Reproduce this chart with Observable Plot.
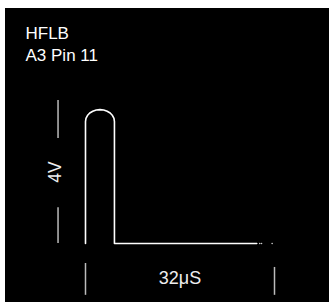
<!DOCTYPE html>
<html><head><meta charset="utf-8">
<script src="https://cdn.jsdelivr.net/npm/d3@7"></script>
<script src="https://cdn.jsdelivr.net/npm/@observablehq/plot@0.6"></script>
<style>
html,body{margin:0;padding:0;background:#fff;}
#wrap{padding:8px 0 0 5px;width:324px;height:294px;}
#wrap svg{display:block;background:#000;}
</style></head><body><div id="wrap"></div>
<script>
// Title lines
const titleLines = ["HFLB", "A3 Pin 11"];
// Waveform trace (time in µs, volts)
const pulseT = [0, 0, 0.08, 0.33, 0.72, 1.23, 1.82, 2.45, 3.08, 3.67, 4.18, 4.57, 4.82, 4.9, 4.9, 29.0];
const pulseV = [0, 3.41, 3.50, 3.58, 3.65, 3.70, 3.735, 3.746, 3.735, 3.70, 3.65, 3.58, 3.50, 3.41, 0, 0];
const traceDotT = [29.5, 29.8, 31.6];
const traceDotV = [0, 0, 0];
// Voltage scale bar
const voltBarT = -4.65;
const voltBarFrom = [0, 2.94];
const voltBarTo = [1.0, 4.0];
const voltLabel = "4V";
const voltLabelT = -5.05;
const voltLabelV = 2.0;
// Time scale bar
const timeTickT = [0, 32];
const timeTickTop = [-0.56, -0.67];
const timeTickBottom = [-1.45, -1.45];
const timeLabel = "32\u03bcS";
const timeLabelT = 16;
const timeLabelV = -0.965;

const pulse = pulseT.map((t, i) => ({t, v: pulseV[i]}));
const dots = traceDotT.map((t, i) => ({t, v: traceDotV[i]}));
const voltSegs = voltBarFrom.map((a, i) => ({t: voltBarT, v1: a, v2: voltBarTo[i]}));
const timeTicks = timeTickT.map((t, i) => ({t, v1: timeTickTop[i], v2: timeTickBottom[i]}));

const chart = Plot.plot({
  width: 324,
  height: 294,
  marginLeft: 80,
  marginRight: 55,
  marginTop: 92,
  marginBottom: 59,
  x: {domain: [0, 32], axis: null},
  y: {domain: [0, 4], axis: null},
  style: {background: "#000", color: "#fff", fontFamily: "'Liberation Sans', Arial, sans-serif", overflow: "visible"},
  marks: [
    Plot.text([titleLines.join("\n")], {
      frameAnchor: "top-left", dx: -60, dy: -76, lineAnchor: "top", textAnchor: "start",
      fontSize: 17, lineHeight: 1.24, fill: "#fff"
    }),
    Plot.ruleX(voltSegs, {x: "t", y1: "v1", y2: "v2", stroke: "#bbb", strokeWidth: 1.5}),
    Plot.text([voltLabel], {x: voltLabelT, y: voltLabelV, rotate: -90, fontSize: 17.5, fill: "#eee"}),
    Plot.ruleX(timeTicks, {x: "t", y1: "v1", y2: "v2", stroke: "#bbb", strokeWidth: 1.5}),
    Plot.text([timeLabel], {x: timeLabelT, y: timeLabelV, fontSize: 18, fill: "#eee"}),
    Plot.line(pulse, {x: "t", y: "v", stroke: "#fff", strokeWidth: 1.6, curve: "linear", strokeLinejoin: "round"}),
    Plot.dot(dots, {x: "t", y: "v", r: 0.8, fill: "#ccc", stroke: null})
  ]
});
document.getElementById("wrap").append(chart);
</script>
</body></html>
